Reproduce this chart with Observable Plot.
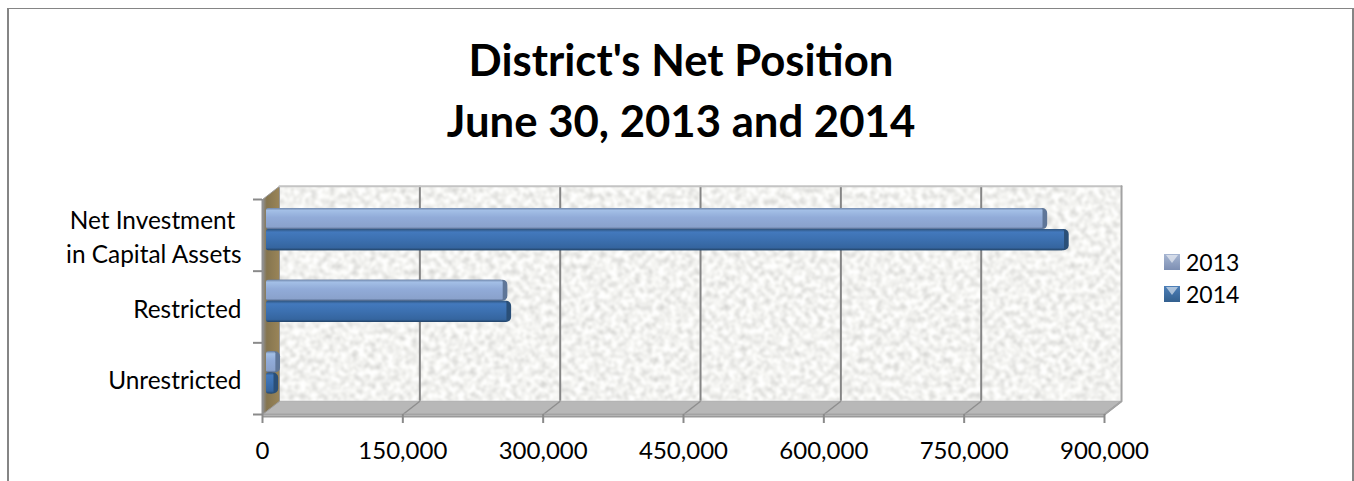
<!DOCTYPE html>
<html>
<head>
<meta charset="utf-8">
<script src="https://cdn.jsdelivr.net/npm/d3@7"></script>
<script src="https://cdn.jsdelivr.net/npm/@observablehq/plot@0.6"></script>
<style>
  html, body { margin: 0; background: #fff; }
  #chart { position: relative; width: 1354px; height: 481px; overflow: hidden; font-family: Lato, sans-serif; color: #000; }
  #border { position: absolute; left: 7px; top: 8px; width: 1343px; height: 500px; border: 2px solid #858585; border-top-width: 1.5px; }
  #title { position: absolute; left: 0; top: 29px; width: 1362px; margin: 0; text-align: center; font-size: 43.7px; line-height: 61px; font-weight: 700; }
  #plot { position: absolute; left: 0; top: 170px; }
  #plot svg { overflow: visible; display: block; }
  .key { position: absolute; left: 1164px; display: flex; align-items: center; font-size: 23px; line-height: 32px; }
  .swatch { position: relative; width: 16px; height: 16px; margin-right: 6px; overflow: hidden; }
  .swatch::after { content: ""; position: absolute; left: 2px; top: 1px; width: 12px; height: 8px; clip-path: polygon(0 0, 100% 0, 50% 100%); background: rgba(255,255,255,.55); }
  .s2013 { background: linear-gradient(#a7b6d2, #7d8fb3); }
  .s2014 { background: linear-gradient(#4d7fb8, #33608f); }
</style>
</head>
<body>
<svg width="0" height="0" style="position:absolute">
  <defs>
    <!-- soft speckled stone texture for the chart walls -->
    <filter id="stone" x="0" y="0" width="100%" height="100%" color-interpolation-filters="sRGB">
      <feTurbulence type="fractalNoise" baseFrequency="0.17" numOctaves="3" seed="7" result="n"/>
      <feColorMatrix in="n" type="matrix" values="0.34 0 0 0 0.78  0.34 0 0 0 0.78  0.34 0 0 0 0.77  0 0 0 0 1" result="b"/>
      <feGaussianBlur in="b" stdDeviation="0.8" result="c"/>
      <feComposite in="c" in2="SourceAlpha" operator="in"/>
    </filter>
    <linearGradient id="bar2013" x1="0" y1="0" x2="0" y2="1">
      <stop offset="0" stop-color="#6f86aa"/><stop offset=".12" stop-color="#a3bfe6"/>
      <stop offset=".45" stop-color="#91abd8"/><stop offset=".9" stop-color="#8aa2cc"/><stop offset="1" stop-color="#52688c"/>
    </linearGradient>
    <linearGradient id="bar2014" x1="0" y1="0" x2="0" y2="1">
      <stop offset="0" stop-color="#2f5580"/><stop offset=".14" stop-color="#4379bd"/>
      <stop offset=".5" stop-color="#3c70b0"/><stop offset=".88" stop-color="#35659f"/><stop offset="1" stop-color="#234468"/>
    </linearGradient>
    <linearGradient id="wallSide" x1="0" y1="0" x2="1" y2="0">
      <stop offset="0" stop-color="#8f9094"/><stop offset=".25" stop-color="#85754f"/><stop offset="1" stop-color="#9a8558"/>
    </linearGradient>
  </defs>
</svg>

<div id="chart">
  <div id="border"></div>
  <h1 id="title">District's Net Position<br>June 30, 2013 and 2014</h1>
  <div id="plot"></div>
  <div class="key" style="top:246px"><span class="swatch s2013"></span>2013</div>
  <div class="key" style="top:278px"><span class="swatch s2014"></span>2014</div>
</div>

<script>
// Balances by category, in dollars
const categories = ["Net Investment\u00a0\nin Capital Assets", "Restricted", "Unrestricted"];
const values2013 = [835000, 258000, 15000];
const values2014 = [858000, 262000, 13000];
const xTicks = [0, 150000, 300000, 450000, 600000, 750000, 900000];
const yBoundaries = [0, 1, 2, 3];

// Depth of the box, expressed in axis units
const depthX = 18200;
const depthY = -0.185;
const capWidth = 5000;
const xMax = 900000;
const yMax = 3;

const rows = [
  ...categories.map((c, i) => ({slot: i, top: 0.125, bottom: 0.42, value: values2013[i], fill: "url(#bar2013)", edge: "#5f7698"})),
  ...categories.map((c, i) => ({slot: i, top: 0.42, bottom: 0.715, value: values2014[i], fill: "url(#bar2014)", edge: "#2a4f78"}))
];

const sideWall = [[0, 0], [depthX, depthY], [depthX, yMax + depthY], [0, yMax]].map(([x, y]) => ({x, y}));
const floor = [[0, yMax], [depthX, yMax + depthY], [xMax + depthX, yMax + depthY], [xMax, yMax]].map(([x, y]) => ({x, y}));
const rightEdge = [[xMax + depthX, depthY], [xMax + depthX, yMax + depthY], [xMax, yMax], [0, yMax]].map(([x, y]) => ({x, y}));
const topEdge = [[depthX, depthY], [xMax + depthX, depthY]].map(([x, y]) => ({x, y}));

const plot = Plot.plot({
  width: 1354,
  height: 311,
  marginLeft: 262,
  marginRight: 250,
  marginTop: 29,
  marginBottom: 67,
  style: {background: "transparent", fontFamily: "Lato, sans-serif", color: "#000"},
  x: {domain: [0, xMax], label: null},
  y: {domain: [yMax, 0], label: null},
  marks: [
    // box walls
    Plot.rect([{}], {x1: depthX, x2: xMax + depthX, y1: depthY, y2: yMax + depthY, fill: "#eee", imageFilter: "url(#stone)"}),
    Plot.line(floor, {x: "x", y: "y", fill: "#b8b8b8", stroke: "#adadad", strokeWidth: 1}),
    Plot.line(sideWall, {x: "x", y: "y", fill: "url(#wallSide)", stroke: "#9a9a9a", strokeWidth: 1}),
    // gridlines on the back wall and the floor
    Plot.ruleX(xTicks.slice(1, -1), {x: d => d + depthX, y1: depthY, y2: yMax + depthY, stroke: "#858585", strokeWidth: 2}),
    Plot.link(xTicks.slice(1), {x1: d => d, y1: yMax, x2: d => d + depthX, y2: yMax + depthY, stroke: "#8e8e8e", strokeWidth: 1.5}),
    Plot.line(topEdge, {x: "x", y: "y", stroke: "#c4c4c4", strokeWidth: 2}),
    Plot.line(rightEdge, {x: "x", y: "y", stroke: "#a3a3a3", strokeWidth: 2}),
    Plot.ruleX([0], {y1: 0, y2: yMax, stroke: "#8f8f8f", strokeWidth: 2}),
    Plot.ruleY([yMax], {x1: 0, x2: xMax, stroke: "#9a9a9a", strokeWidth: 2, dy: 2}),
    // bars: rounded outer shell, then the lit face
    Plot.rectX(rows, {x1: 0, x2: "value", y1: d => d.slot + d.top, y2: d => d.slot + d.bottom, fill: "edge", rx: 5, dx: 4}),
    Plot.rectX(rows, {x1: 0, x2: d => Math.max(d.value - capWidth, 2000), y1: d => d.slot + d.top, y2: d => d.slot + d.bottom, fill: "fill", rx: 2, dx: 4}),
    // axes
    Plot.axisY({ticks: yBoundaries, tickSize: 9, tickFormat: () => "", label: null, stroke: "#8a8a8a", strokeWidth: 2}),
    Plot.text(categories, {x: 0, y: (d, i) => i + 0.5, text: d => d, textAnchor: "end", dx: -21, fontSize: 24.4, lineHeight: 1.36, fill: "#000"}),
    Plot.axisX({ticks: xTicks, tickSize: 9, tickPadding: 18, tickFormat: d3.format(","), label: null, fontSize: 24, stroke: "#8a8a8a", strokeWidth: 2, fill: "#000"})
  ]
});

document.getElementById("plot").append(plot);
</script>
</body>
</html>
